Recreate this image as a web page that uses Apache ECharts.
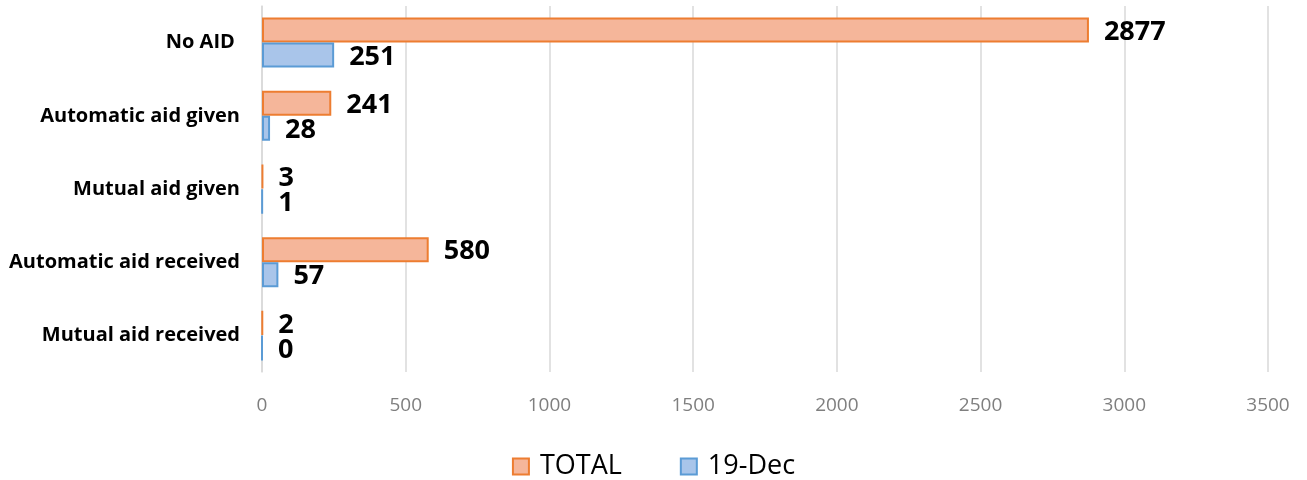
<html>
<head>
<meta charset="UTF-8">
<script src="https://cdn.jsdelivr.net/npm/echarts@6/dist/echarts.min.js"></script>
<style>
html,body{margin:0;padding:0;background:#fff;}
#chart{width:1307px;height:480px;}
</style>
</head>
<body>
<div id="chart"></div>
<script>
var categories = ['No AID ', 'Automatic aid given', 'Mutual aid given', 'Automatic aid received', 'Mutual aid received'];
var totalValues = [2877, 241, 3, 580, 2];
var decValues = [251, 28, 1, 57, 0];
var xTicks = [0, 500, 1000, 1500, 2000, 2500, 3000, 3500];

var myChart = echarts.init(document.getElementById('chart'));

var labelStyle = {
    show: true,
    position: 'right',
    distance: 15,
    fontFamily: 'Open Sans',
    fontWeight: 'bold',
    fontSize: 27,
    color: '#000',
    offset: [0, 2]
};

var option = {
    animation: false,
    grid: {left: 262, right: 39, top: 6, bottom: 108},
    legend: {
        bottom: -5,
        left: 'center',
        itemWidth: 16,
        itemHeight: 16,
        itemGap: 58,
        icon: 'rect',
        textStyle: {fontFamily: 'Open Sans', fontSize: 27, color: '#000', padding: [0, 0, 0, 6]},
        data: ['TOTAL', '19-Dec']
    },
    xAxis: {
        type: 'value',
        min: 0,
        max: 3500,
        interval: 500,
        axisLine: {show: false},
        axisTick: {show: false},
        splitLine: {lineStyle: {color: '#d9d9d9', width: 1.5}},
        axisLabel: {
            fontFamily: 'Open Sans', fontSize: 19, color: '#7f7f7f', margin: 24,
            formatter: function (v) { return xTicks.indexOf(v) >= 0 ? String(v) : ''; }
        }
    },
    yAxis: {
        type: 'category',
        data: categories,
        inverse: true,
        axisLine: {show: true, lineStyle: {color: '#d9d9d9', width: 1.5}},
        axisTick: {show: false},
        axisLabel: {fontFamily: 'Open Sans', fontWeight: 'bold', fontSize: 20, color: '#000', margin: 22}
    },
    series: [
        {
            name: 'TOTAL',
            type: 'bar',
            data: totalValues,
            barWidth: 25,
            barGap: '0%',
            itemStyle: {color: '#F5B69A', borderColor: '#ED7D31', borderWidth: 2},
            label: labelStyle
        },
        {
            name: '19-Dec',
            type: 'bar',
            data: decValues,
            barWidth: 25,
            barGap: '0%',
            itemStyle: {color: '#A9C5EA', borderColor: '#5B9BD5', borderWidth: 2},
            label: labelStyle
        }
    ]
};

myChart.setOption(option);
</script>
</body>
</html>
